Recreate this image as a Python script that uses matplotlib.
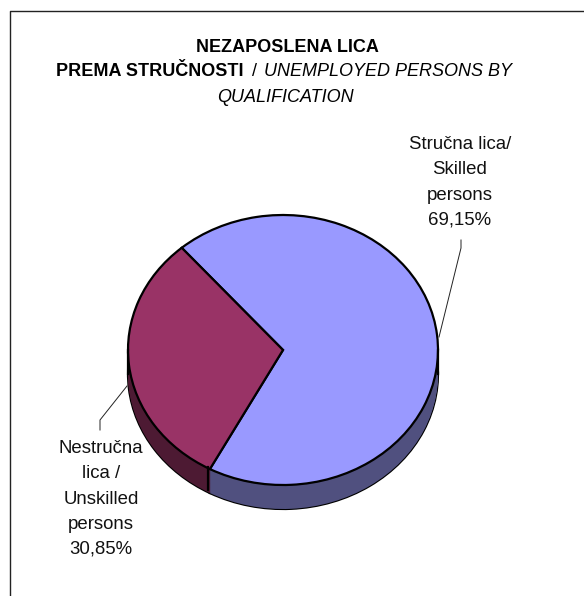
import matplotlib
matplotlib.use("Agg")
import matplotlib.pyplot as plt
from matplotlib.lines import Line2D
from matplotlib.transforms import Affine2D

W, H = 584, 596
plt.rcParams['font.family'] = ['Liberation Sans', 'DejaVu Sans']

shares = [69.15, 30.85]
categories = ["Stručna lica/\nSkilled\npersons\n69,15%",
              "Nestručna\nlica /\nUnskilled\npersons\n30,85%"]
top_colors = ['#9999FF', '#993366']
side_colors = ['#50507F', '#4D1A33']
START = 130.8

fig = plt.figure(figsize=(W / 100, H / 100), dpi=100, facecolor='white')
px = Affine2D().scale(1, -1).translate(0, H)

# frame
fig.add_artist(Line2D([9.5, 9.5, W], [H, 10.5, 10.5], color='#222222', lw=1.0, transform=px))

# pie axes: unit circle maps to the ellipse's bounding box
L, R, T, B = 128, 438, 215, 485
ax = fig.add_axes([L / W, 1 - B / H, (R - L) / W, (B - T) / H])
DEPTH = 24 / ((B - T) / 2)
edge = dict(edgecolor='black', linewidth=1.6, clip_on=False)
noedge = dict(edgecolor='none', linewidth=0, clip_on=False)

ax.pie(shares, colors=side_colors, startangle=START, counterclock=False, center=(0, -DEPTH),
       wedgeprops=edge)
steps = 30
for i in range(steps, 0, -1):
    ax.pie(shares, colors=side_colors, startangle=START, counterclock=False,
           center=(0, -DEPTH * i / steps), wedgeprops=noedge)
ax.pie(shares, colors=top_colors, startangle=START, counterclock=False, wedgeprops=edge)
ax.set_aspect('auto')
ax.set_xlim(-1, 1)
ax.set_ylim(-1, 1)
ax.axis('off')

# side edges of the wall
for xp, y0, y1 in [(208, 467, 490), (128, 350, 374), (438, 350, 374)]:
    fig.add_artist(Line2D([xp, xp], [y0, y1], color='black', lw=1.6, transform=px))

# leader lines
fig.add_artist(Line2D([439, 461, 461], [337, 248, 240], color='#222222', lw=0.7, transform=px))
fig.add_artist(Line2D([127, 100, 100], [386, 420, 430], color='#222222', lw=0.7, transform=px))

# labels
lab = dict(ha='center', va='center', fontsize=13.4, color='#111111', linespacing=1.63, transform=px)
fig.text(460, 182.5, categories[0], **lab)
fig.text(101, 499, categories[1], **lab)

# title
t = dict(fontsize=13.0, color='black', transform=px, va='center')
fig.text(287, 47.5, "NEZAPOSLENA LICA", ha='center', fontweight='bold', **t)
fig.text(243, 71, "PREMA STRUČNOSTI", ha='right', fontweight='bold', **t)
fig.text(254, 71, "/", ha='center', **t)
fig.text(264, 71, "UNEMPLOYED PERSONS BY", ha='left', fontstyle='italic', **t)
fig.text(285, 97, "QUALIFICATION", ha='center', fontstyle='italic', **t)

fig.savefig('out.png', dpi=100)
